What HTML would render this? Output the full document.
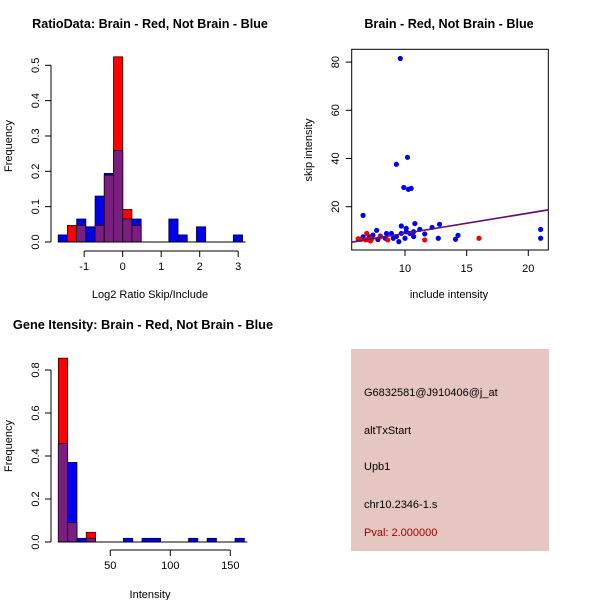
<!DOCTYPE html>
<html><head><meta charset="utf-8"><style>
body{margin:0;background:#fff}
svg{display:block;font-family:"Liberation Sans",sans-serif}
</style></head><body>
<svg id="s" width="600" height="600" viewBox="0 0 600 600">
<text x="150" y="28" font-size="12.6" font-weight="bold" text-anchor="middle">RatioData: Brain - Red, Not Brain - Blue</text>
<text x="449" y="28" font-size="12.6" font-weight="bold" text-anchor="middle">Brain - Red, Not Brain - Blue</text>
<text x="143" y="329" font-size="12.8" font-weight="bold" text-anchor="middle">Gene Itensity: Brain - Red, Not Brain - Blue</text>
<text x="150" y="298" font-size="11" text-anchor="middle">Log2 Ratio Skip/Include</text>
<text transform="translate(12,146) rotate(-90)" font-size="11" text-anchor="middle">Frequency</text>
<text x="449" y="298" font-size="11" text-anchor="middle">include intensity</text>
<text transform="translate(312,150) rotate(-90)" font-size="11" text-anchor="middle">skip intensity</text>
<text x="150" y="598" font-size="11" text-anchor="middle">Intensity</text>
<text transform="translate(12,446) rotate(-90)" font-size="11" text-anchor="middle">Frequency</text>
<g>
<rect x="351" y="349" width="198" height="202" fill="#e6c6c0"/>
<text x="364" y="396" font-size="11">G6832581@J910406@j_at</text>
<text x="364" y="434" font-size="11">altTxStart</text>
<text x="364" y="470" font-size="11">Upb1</text>
<text x="364" y="508" font-size="11">chr10.2346-1.s</text>
<text x="364" y="536" font-size="11" fill="#a00000">Pval: 2.000000</text>
</g>
</svg>
<script>
// Ratio histogram data
const ratioStart=-1.675, ratioWidth=0.2394;
const ratioRed=[0,0.047,0.047,0,0.047,0.189,0.524,0.092,0.047,0,0,0,0,0,0,0,0,0,0,0];
const ratioBlue=[0.02,0,0.065,0.043,0.13,0.194,0.259,0.065,0.065,0,0,0,0.065,0.02,0,0.043,0,0,0,0.02];
const ratioXTicks=[-1,0,1,2,3];
const ratioYTicks=[0,0.1,0.2,0.3,0.4,0.5];
// Intensity histogram data
const intStart=6.7, intWidth=7.75;
const intRed=[0.855,0.09,0,0.045,0,0,0,0,0,0,0,0,0,0,0,0,0,0,0,0];
const intBlue=[0.457,0.37,0.017,0.017,0,0,0,0.017,0,0.017,0.017,0,0,0,0.017,0,0.017,0,0,0.017];
const intXTicks=[50,100,150];
const intYTicks=[0,0.2,0.4,0.6,0.8];
// Scatter data
const blueX=[9.62,10.2,9.3,9.9,10.27,10.5,6.6,9.7,10.8,12.8,12.2,11.2,10.1,21.0,7.7,21.0,12.7,14.1,14.3,11.6,6.6,7.4,8.0,8.5,8.9,9.3,9.5,9.7,10,10.4,10.7,8.4,7.8,9.05,7.1,10.7,10.1];
const blueY=[81.5,40.5,37.6,28,27.2,27.6,16.4,12,13,12.7,11.4,10.6,11,10.6,10.2,6.9,6.9,6.5,8.1,8.7,7.5,8.2,7.8,8.9,8.9,7.6,5.5,8.9,6.9,8.9,7.6,6.9,6.4,6.9,7.5,9.6,9.6];
const redX=[6.2,6.9,6.8,7.0,7.3,8,8.6,11.6,16.0,6.4,7.2];
const redY=[6.7,8.9,6.2,6.5,6.7,7.5,6.2,6.2,6.9,6.4,5.8];
const fitIntercept=0.43, fitSlope=0.84;
const scXTicks=[10,15,20];
const scYTicks=[20,40,60,80];

const S=document.getElementById('s');
const NS='http://www.w3.org/2000/svg';
function mk(tag,attrs,name,parent){const e=document.createElementNS(NS,tag);for(const k in attrs)e.setAttribute(k,attrs[k]);


(parent||S).appendChild(e);return e;}
function txt(x,y,s,name,rot){const t=mk('text',{x:x,y:y,'font-size':11,'text-anchor':'middle'},name);if(rot)t.setAttribute('transform','rotate(-90 '+x+' '+y+')');t.textContent=s;return t;}

function hist(start,w,red,blue,xs,ys,xTicks,yTicks,axY,axX,prefix,fmt){
  const g=mk('g',{},prefix+'-bars');
  for(let i=0;i<red.length;i++){
    const x0=xs(start+i*w),x1=xs(start+(i+1)*w);
    const r=red[i],b=blue[i],m=Math.min(r,b);
    if(r>0){mk('rect',{x:x0,y:ys(r),width:x1-x0,height:ys(0)-ys(r),fill:'#ff0000',stroke:'#300','stroke-width':0.8},prefix+'-red-bar',g);}
    if(b>0){mk('rect',{x:x0,y:ys(b),width:x1-x0,height:ys(0)-ys(b),fill:'#0000ee',stroke:'#003','stroke-width':0.8},prefix+'-blue-bar',g);}
    if(m>0){mk('rect',{x:x0,y:ys(m),width:x1-x0,height:ys(0)-ys(m),fill:'#7a1e80',stroke:'#202','stroke-width':0.8},prefix+'-overlap-bar',g);}
  }
  mk('line',{x1:xs(start),x2:xs(start+red.length*w)+3,y1:ys(0),y2:ys(0),stroke:'#000'},prefix+'-baseline');
  mk('line',{x1:xs(xTicks[0]),x2:xs(xTicks[xTicks.length-1]),y1:axY,y2:axY,stroke:'#000'},prefix+'-x-axis');
  xTicks.forEach(v=>{mk('line',{x1:xs(v),x2:xs(v),y1:axY,y2:axY+6,stroke:'#000'},prefix+'-x-tick');txt(xs(v),axY+19,String(v),prefix+'-x-tick-label');});
  mk('line',{x1:axX,x2:axX,y1:ys(yTicks[0]),y2:ys(yTicks[yTicks.length-1]),stroke:'#000'},prefix+'-y-axis');
  yTicks.forEach(v=>{mk('line',{x1:axX,x2:axX-6,y1:ys(v),y2:ys(v),stroke:'#000'},prefix+'-y-tick');txt(axX-12,ys(v),fmt(v),prefix+'-y-tick-label',true);});
}
hist(ratioStart,ratioWidth,ratioRed,ratioBlue,v=>122.7+v*38.5,v=>242-v*353.4,ratioXTicks,ratioYTicks,251,51,'ratio',v=>v.toFixed(1));
hist(intStart,intWidth,intRed,intBlue,v=>110.3+(v-50)*1.2,v=>542-v*215,intXTicks,intYTicks,550,51,'intensity',v=>v.toFixed(1));
const sx=v=>405+(v-10)*12.33, sy=v=>206.7-(v-20)*2.41;
mk('rect',{x:351.7,y:49.3,width:196.6,height:200.7,fill:'none',stroke:'#000'},'scatter-box');
scXTicks.forEach(v=>{mk('line',{x1:sx(v),x2:sx(v),y1:250,y2:256,stroke:'#000'},'scatter-x-tick');txt(sx(v),272,String(v),'scatter-x-tick-label');});
scYTicks.forEach(v=>{mk('line',{x1:351.7,x2:345.7,y1:sy(v),y2:sy(v),stroke:'#000'},'scatter-y-tick');txt(339,sy(v),String(v),'scatter-y-tick-label',true);});
const pg=mk('g',{},'scatter-points');
blueX.forEach((x,i)=>{mk('circle',{cx:sx(x),cy:sy(blueY[i]),r:2.6,fill:'#0000ee'},'blue-point',pg);});
redX.forEach((x,i)=>{mk('circle',{cx:sx(x),cy:sy(redY[i]),r:2.6,fill:'#ee0000'},'red-point',pg);});
const xl=5.68,xr=21.62;
mk('line',{x1:sx(xl),y1:sy(fitIntercept+fitSlope*xl),x2:sx(xr),y2:sy(fitIntercept+fitSlope*xr),stroke:'#c00000','stroke-width':1.2},'red-fit-line');
mk('line',{x1:sx(xl),y1:sy(fitIntercept+fitSlope*xl)-0.6,x2:sx(xr),y2:sy(fitIntercept+fitSlope*xr)-0.6,stroke:'#2020c0','stroke-width':1},'blue-fit-line');
</script>
</body></html>
